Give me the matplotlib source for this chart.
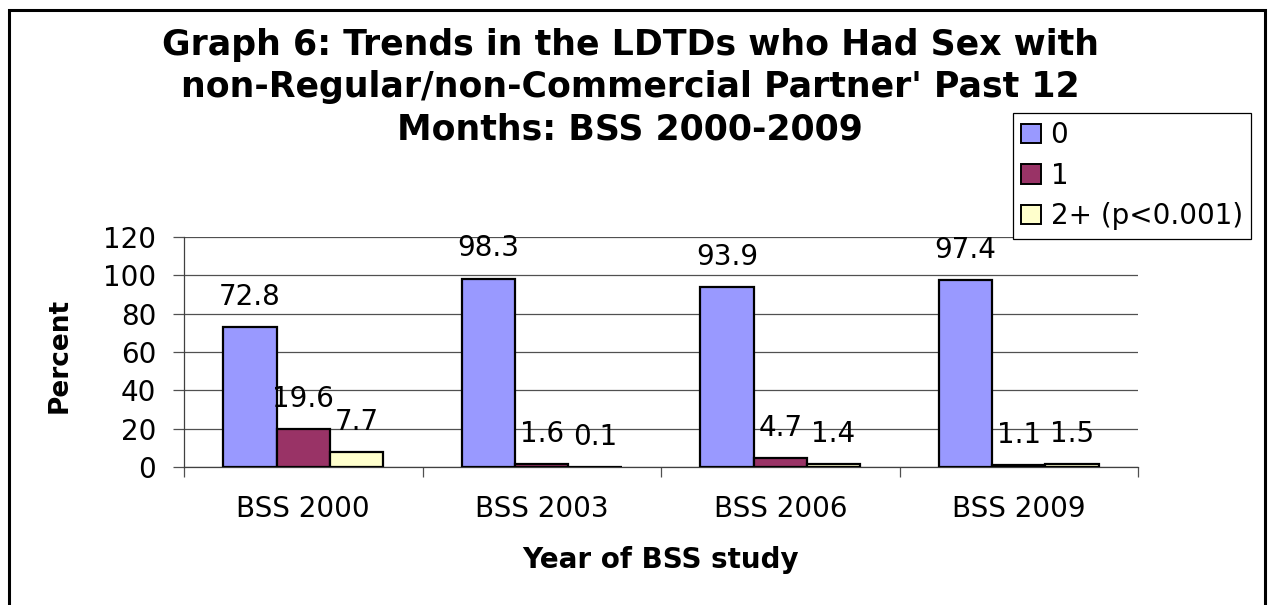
import numpy as np
import matplotlib
matplotlib.use("Agg")
import matplotlib.pyplot as plt
import matplotlib.patches as mpatches

# survey rounds and percentages per number of partners
rounds = ["BSS 2000", "BSS 2003", "BSS 2006", "BSS 2009"]
partners_0 = [72.8, 98.3, 93.9, 97.4]
partners_1 = [19.6, 1.6, 4.7, 1.1]
partners_2plus = [7.7, 0.1, 1.4, 1.5]
series_names = ["0", "1", "2+ (p<0.001)"]
yticks = [0, 20, 40, 60, 80, 100, 120]
title_lines = ["Graph 6: Trends in the LDTDs who Had Sex with",
               "non-Regular/non-Commercial Partner' Past 12",
               "Months: BSS 2000-2009"]

colors = ["#9999FF", "#993366", "#FFFFCC"]

W, H = 1268, 605
fig = plt.figure(figsize=(W / 100, H / 100), dpi=100)
plt.rcParams['font.family'] = ['DejaVu Sans']

# plot area placed in pixel terms
left, right, top, bottom = 184, 1138, 237, 467
ax = fig.add_axes([left / W, 1 - bottom / H, (right - left) / W, (bottom - top) / H])

x = np.arange(len(rounds))
bw = 0.223
series = [partners_0, partners_1, partners_2plus]
for i, vals in enumerate(series):
    pos = x + (i - 1) * bw
    ax.bar(pos, vals, width=bw, color=colors[i], edgecolor="black", linewidth=1.6,
           zorder=3, label=series_names[i])
    for px, v in zip(pos, vals):
        ax.annotate("%.1f" % v, xy=(px, v), xytext=(0, 16), textcoords="offset points",
                    ha="center", va="baseline", fontsize=20, zorder=4)

ax.set_xlim(-0.5, 3.5)
ax.set_ylim(0, 120)
ax.set_yticks(yticks)
ax.yaxis.grid(True, color="#505050", linewidth=0.9, zorder=0)
ax.set_axisbelow(True)
for s in ["top", "right"]:
    ax.spines[s].set_visible(False)
for s in ["left", "bottom"]:
    ax.spines[s].set_color("#404040")
    ax.spines[s].set_linewidth(0.9)

ax.tick_params(axis="y", length=8, width=0.9, color="#505050", pad=12, labelsize=20)
ax.set_xticks(x)
ax.set_xticklabels(rounds)
ax.tick_params(axis="x", which="major", length=0, pad=20, labelsize=20)
ax.set_xticks(np.arange(-0.5, 4.0, 1.0), minor=True)
ax.tick_params(axis="x", which="minor", length=7, width=0.9, color="#505050")

ax.set_xlabel("Year of BSS study", fontsize=20, fontweight="bold", va="center")
ax.xaxis.set_label_coords(0.5, -0.404)
ax.set_ylabel("Percent", fontsize=19, fontweight="bold", va="center")
ax.yaxis.set_label_coords(-0.13, 0.487)

# title, one line at a time
for line, yc in zip(title_lines, [45, 87, 129]):
    fig.text(630 / W, 1 - yc / H, line, ha="center", va="center",
             fontsize=25, fontweight="bold")

handles = [mpatches.Patch(facecolor=c, edgecolor="black", linewidth=1.4) for c in colors]
leg = fig.legend(handles, series_names, loc="upper right",
                 bbox_to_anchor=(1251 / W, 1 - 113 / H), fontsize=20,
                 handlelength=0.7, handleheight=0.7, handletextpad=0.35,
                 labelspacing=0.45, borderpad=0.3, borderaxespad=0,
                 fancybox=False, framealpha=1, edgecolor="black")
leg.get_frame().set_linewidth(0.9)

# outer chart border (bottom edge runs off the canvas)
border = mpatches.Rectangle((9 / W, -0.05), (1265 - 9) / W, 1 - 10 / H + 0.05,
                            transform=fig.transFigure, fill=False,
                            edgecolor="black", linewidth=2.2)
fig.patches.append(border)

fig.savefig("out.png", dpi=100)
